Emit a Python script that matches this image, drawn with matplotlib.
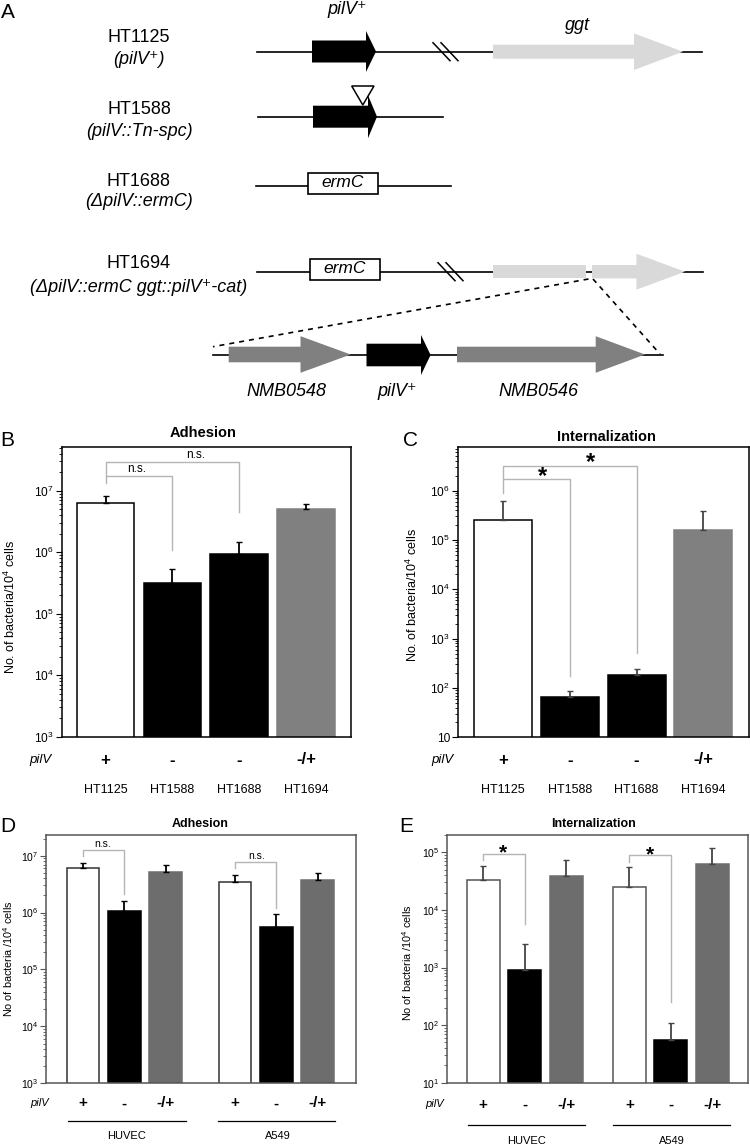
import numpy as np
import matplotlib
matplotlib.use('Agg')
import matplotlib.pyplot as plt
from matplotlib.patches import Polygon, Rectangle
from matplotlib.ticker import FixedLocator, FixedFormatter, LogLocator, NullFormatter, NullLocator
from matplotlib.transforms import blended_transform_factory

plt.rcParams['font.family'] = ['Liberation Sans', 'DejaVu Sans']
plt.rcParams['mathtext.fontset'] = 'custom'
plt.rcParams['mathtext.rm'] = 'Liberation Sans'
plt.rcParams['mathtext.it'] = 'Liberation Sans:italic'
plt.rcParams['mathtext.bf'] = 'Liberation Sans:bold'
plt.rcParams['mathtext.default'] = 'regular'

# ---- data ----
strains = ['HT1125', 'HT1588', 'HT1688', 'HT1694']
pilv_strain = ['+', '-', '-', '-/+']

adh_strain = [6.2e6, 3.2e5, 9.3e5, 5.1e6]
adh_strain_err = [2.0e6, 2.1e5, 5.2e5, 1.05e6]

int_strain = [2.5e5, 66, 185, 1.62e5]
int_strain_err = [3.8e5, 19, 53, 2.2e5]

cells = ['HUVEC', 'A549']
pilv_cell = ['+', '-', '-/+']

adh_huvec = [6.0e6, 1.05e6, 5.2e6]
adh_huvec_err = [1.35e6, 5.5e5, 1.7e6]
adh_a549 = [3.45e6, 5.5e5, 3.74e6]
adh_a549_err = [1.05e6, 3.95e5, 1.26e6]

int_huvec = [3.3e4, 894, 3.86e4]
int_huvec_err = [2.5e4, 1640, 3.4e4]
int_a549 = [2.53e4, 54.5, 6.27e4]
int_a549_err = [2.97e4, 52.5, 5.43e4]

W, H = 750, 1145
fig = plt.figure(figsize=(7.5, 11.45), dpi=100)
ax0 = fig.add_axes([0, 0, 1, 1])
ax0.set_xlim(0, W)
ax0.set_ylim(H, 0)
ax0.axis('off')


def box(l, t, r, b):
    return [l / W, 1 - b / H, (r - l) / W, (b - t) / H]


def txt(x, y, s, **kw):
    # figure-level text in pixel coordinates, drawn above all axes
    kw.setdefault('ha', 'center')
    kw.setdefault('va', 'center')
    fig.text(x, y, s, transform=ax0.transData, **kw)


# ---- panel A: gene maps ----
def gene(x0, xb, xt, yc, hb, hh, color):
    pts = [(x0, yc - hb), (xb, yc - hb), (xb, yc - hh), (xt, yc),
           (xb, yc + hh), (xb, yc + hb), (x0, yc + hb)]
    ax0.add_patch(Polygon(pts, closed=True, facecolor=color, edgecolor='none', zorder=3))


def line(x1, x2, y, **kw):
    ax0.plot([x1, x2], [y, y], color='black', lw=1.2, zorder=2, **kw)


def slashes(x, y):
    for dx in (0, 8):
        ax0.plot([x + dx, x + dx + 17], [y - 9, y + 9], color='black', lw=1.1, zorder=4)


def ermc(l, t, r, b):
    ax0.add_patch(Rectangle((l, t), r - l, b - t, facecolor='white', edgecolor='black', lw=1.2, zorder=3))
    txt((l + r) / 2, (t + b) / 2 - 1, 'ermC', style='italic', fontsize=12.5)


fsA = 13
txt(8, 13, 'A', fontsize=15)

# row 1
line(257, 702, 51.7)
slashes(433, 51.7)
gene(312, 366, 376, 51.5, 11, 20.5, 'black')
gene(493, 634, 683, 51.7, 7, 18.3, '#d9d9d9')
txt(347, 10, 'pilV⁺', style='italic', fontsize=fsA)
txt(577, 26, 'ggt', style='italic', fontsize=fsA)
txt(139, 37, 'HT1125', fontsize=fsA)
txt(139, 60, '(pilV⁺)', style='italic', fontsize=fsA)

# row 2
line(258, 443, 116.7)
gene(313, 368, 377, 116.7, 11, 21.5, 'black')
ax0.add_patch(Polygon([(351.7, 86), (374, 86), (362.8, 105)], closed=True,
                      facecolor='white', edgecolor='black', lw=1.1, zorder=5))
txt(139, 109, 'HT1588', fontsize=fsA)
txt(139, 132, '(pilV::Tn-spc)', style='italic', fontsize=fsA)

# row 3
line(256, 451, 185.7)
ermc(307.7, 173.3, 378, 194)
txt(139, 182, 'HT1688', fontsize=fsA)
txt(139, 202, '(ΔpilV::ermC)', style='italic', fontsize=fsA)

# row 4
line(257, 703, 271.7)
ermc(309.6, 259, 380.4, 280)
slashes(438, 271.7)
ax0.add_patch(Rectangle((493, 265), 93, 13.3, facecolor='#d9d9d9', edgecolor='none', zorder=3))
gene(592, 636.4, 685, 271.7, 6.7, 18, '#d9d9d9')
txt(139, 264, 'HT1694', fontsize=fsA)
txt(139, 287, '(ΔpilV::ermC ggt::pilV⁺-cat)', style='italic', fontsize=fsA)

# zoom-in row
ax0.plot([588.5, 213], [279, 346.7], color='black', lw=1.2, ls=(0, (3, 3)), zorder=2)
ax0.plot([593, 660], [279, 354], color='black', lw=1.2, ls=(0, (3, 3)), zorder=2)
line(213, 663, 355)
gene(228.7, 300.5, 350.7, 354.5, 7.8, 18.3, '#808080')
gene(366.5, 421, 430.6, 355, 11.3, 20, 'black')
gene(457, 595.7, 645, 354.5, 7.8, 18.3, '#808080')
txt(286, 392, 'NMB0548', style='italic', fontsize=fsA)
txt(397, 392, 'pilV⁺', style='italic', fontsize=fsA)
txt(538, 392, 'NMB0546', style='italic', fontsize=fsA)


# ---- bar panels ----
def dec_label(e):
    return '10' if e == 1 else r'$10^{%d}$' % e


def bar_panel(rect, pos, vals, errs, colors, edges, ecol, ylim, exps, xlim, width,
              spine_col, tick_fs):
    ax = fig.add_axes(box(*rect))
    ax.set_yscale('log')
    ax.set_ylim(*ylim)
    ax.set_xlim(*xlim)
    ax.bar(pos, vals, width, color=colors, edgecolor=edges, linewidth=1.1, zorder=2)
    ax.errorbar(pos, vals, yerr=[np.zeros(len(vals)), errs], fmt='none', ecolor=ecol,
                elinewidth=1.3, capsize=2.2, capthick=1, zorder=3)
    ax.yaxis.set_major_locator(FixedLocator([10.0 ** e for e in exps]))
    ax.yaxis.set_major_formatter(FixedFormatter([dec_label(e) for e in exps]))
    ax.yaxis.set_minor_locator(LogLocator(base=10, subs=np.arange(2, 10), numticks=100))
    ax.yaxis.set_minor_formatter(NullFormatter())
    ax.xaxis.set_major_locator(NullLocator())
    ax.tick_params(axis='y', which='major', direction='out', length=4, width=0.8,
                   labelsize=tick_fs, pad=1.5, color=spine_col)
    ax.tick_params(axis='y', which='minor', direction='out', length=2.2, width=0.6, color=spine_col)
    for s in ax.spines.values():
        s.set_color(spine_col)
        s.set_linewidth(1.1)
    return ax


def bracket(ax, xa, xb, ya, yt, yb):
    ax.plot([xa, xa, xb, xb], [ya, yt, yt, yb], color='#b5b5b5', lw=1, zorder=1, clip_on=False)


def row(ax, xs, y, labels, **kw):
    tr = blended_transform_factory(ax.transData, ax0.transData)
    for x, s in zip(xs, labels):
        ax.text(x, y, s, transform=tr, ha='center', va='center', **kw)


# B
pos4 = np.arange(4)
axB = bar_panel((61.7, 446.7, 351, 736.7), pos4, adh_strain, adh_strain_err,
                ['white', 'black', 'black', '#808080'], ['black', 'black', 'black', '#808080'],
                'black', (1e3, 5.2e7), [3, 4, 5, 6, 7], (-0.656, 3.675), 0.86, 'black', 8.6)
bracket(axB, 0, 1, 1.35e7, 1.75e7, 1.09e6)
bracket(axB, 0, 2, 1.75e7, 2.96e7, 4.56e6)
txt(137, 469, 'n.s.', fontsize=8.5)
txt(196, 455, 'n.s.', fontsize=8.5)
row(axB, pos4, 760, pilv_strain, fontsize=12, fontweight='bold')
row(axB, pos4, 790, strains, fontsize=9)
txt(40, 760, 'pilV', style='italic', fontsize=9.5)
txt(10, 607, r'No. of bacteria/10$^4$ cells', rotation=90, fontsize=9)
txt(203, 433, 'Adhesion', fontweight='bold', fontsize=10.5)
txt(7, 441, 'B', fontsize=15)

# C
axC = bar_panel((457.7, 446.7, 748.5, 737.3), pos4, int_strain, int_strain_err,
                ['white', 'black', 'black', '#808080'], ['black', 'black', 'black', '#808080'],
                '#444444', (10, 7.8e6), [1, 2, 3, 4, 5, 6], (-0.682, 3.68), 0.87, 'black', 8.6)
bracket(axC, 0, 1, 8.9e5, 1.7e6, 174)
bracket(axC, 0, 2, 1.7e6, 3.2e6, 518)
txt(542, 477, '*', fontsize=17, fontweight='bold')
txt(591, 463, '*', fontsize=17, fontweight='bold')
row(axC, pos4, 760, pilv_strain, fontsize=12, fontweight='bold')
row(axC, pos4, 790, strains, fontsize=9)
txt(442, 760, 'pilV', style='italic', fontsize=9.5)
txt(412, 595, r'No. of bacteria/10$^4$ cells', rotation=90, fontsize=9)
txt(606, 437, 'Internalization', fontweight='bold', fontsize=10.5)
txt(411, 441, 'C', fontsize=15)

# D
posD = np.array([0, 1, 2, 3.68, 4.68, 5.68])
cols6 = ['white', 'black', '#6d6d6d'] * 2
edges6 = ['#333333', 'black', '#6d6d6d'] * 2
axD = bar_panel((45.7, 835, 356, 1083.3), posD, adh_huvec + adh_a549, adh_huvec_err + adh_a549_err,
                cols6, edges6, 'black', (1e3, 2.31e7), [3, 4, 5, 6, 7], (-0.903, 6.61), 0.79,
                '#555555', 7.5)
bracket(axD, 0, 1, 9.9e6, 1.26e7, 2.1e6)
bracket(axD, 3.68, 4.68, 6.2e6, 7.85e6, 1.2e6)
txt(103, 844, 'n.s.', fontsize=7.5)
txt(257, 856, 'n.s.', fontsize=7.5)
row(axD, posD, 1103.3, pilv_cell * 2, fontsize=11, fontweight='bold')
txt(40, 1103.3, 'pilV', style='italic', fontsize=8)
for x1, x2, xc, name in [(68, 185.7, 126.7, cells[0]), (218, 335, 278, cells[1])]:
    ax0.plot([x1, x2], [1120.7, 1120.7], color='black', lw=0.9)
    txt(xc, 1136, name, fontsize=8)
txt(8, 959, r'No of bacteria /10$^4$ cells', rotation=90, fontsize=7.8)
txt(200, 824, 'Adhesion', fontweight='bold', fontsize=9)
txt(8, 826, 'D', fontsize=15)

# E
posE = np.array([0, 1, 2, 3.52, 4.52, 5.52])
axE = bar_panel((446.7, 835, 748.3, 1082.7), posE, int_huvec + int_a549, int_huvec_err + int_a549_err,
                cols6, ['#555555', 'black', '#6d6d6d'] * 2, '#444444', (10, 2e5), [1, 2, 3, 4, 5],
                (-0.882, 6.385), 0.8, '#555555', 7.5)
axE.yaxis.set_major_formatter(FixedFormatter([r'$10^{%d}$' % e for e in [1, 2, 3, 4, 5]]))
bracket(axE, 0, 1, 7.35e4, 9.34e4, 5.7e3)
bracket(axE, 3.52, 4.52, 6.8e4, 8.98e4, 255)
txt(503, 853, '*', fontsize=15, fontweight='bold')
txt(650, 855, '*', fontsize=15, fontweight='bold')
row(axE, posE, 1105, pilv_cell * 2, fontsize=11, fontweight='bold')
txt(435, 1104, 'pilV', style='italic', fontsize=8)
for x1, x2, xc, name in [(468.3, 585, 526.7, cells[0]), (612.7, 730, 671.7, cells[1])]:
    ax0.plot([x1, x2], [1125, 1125], color='black', lw=0.9)
    txt(xc, 1140.5, name, fontsize=8)
txt(407, 963, r'No of bacteria /10$^4$ cells', rotation=90, fontsize=7.8)
txt(593, 824, 'Internalization', fontweight='bold', fontsize=9)
txt(406, 826, 'E', fontsize=15)

fig.savefig('out.png', dpi=100)
